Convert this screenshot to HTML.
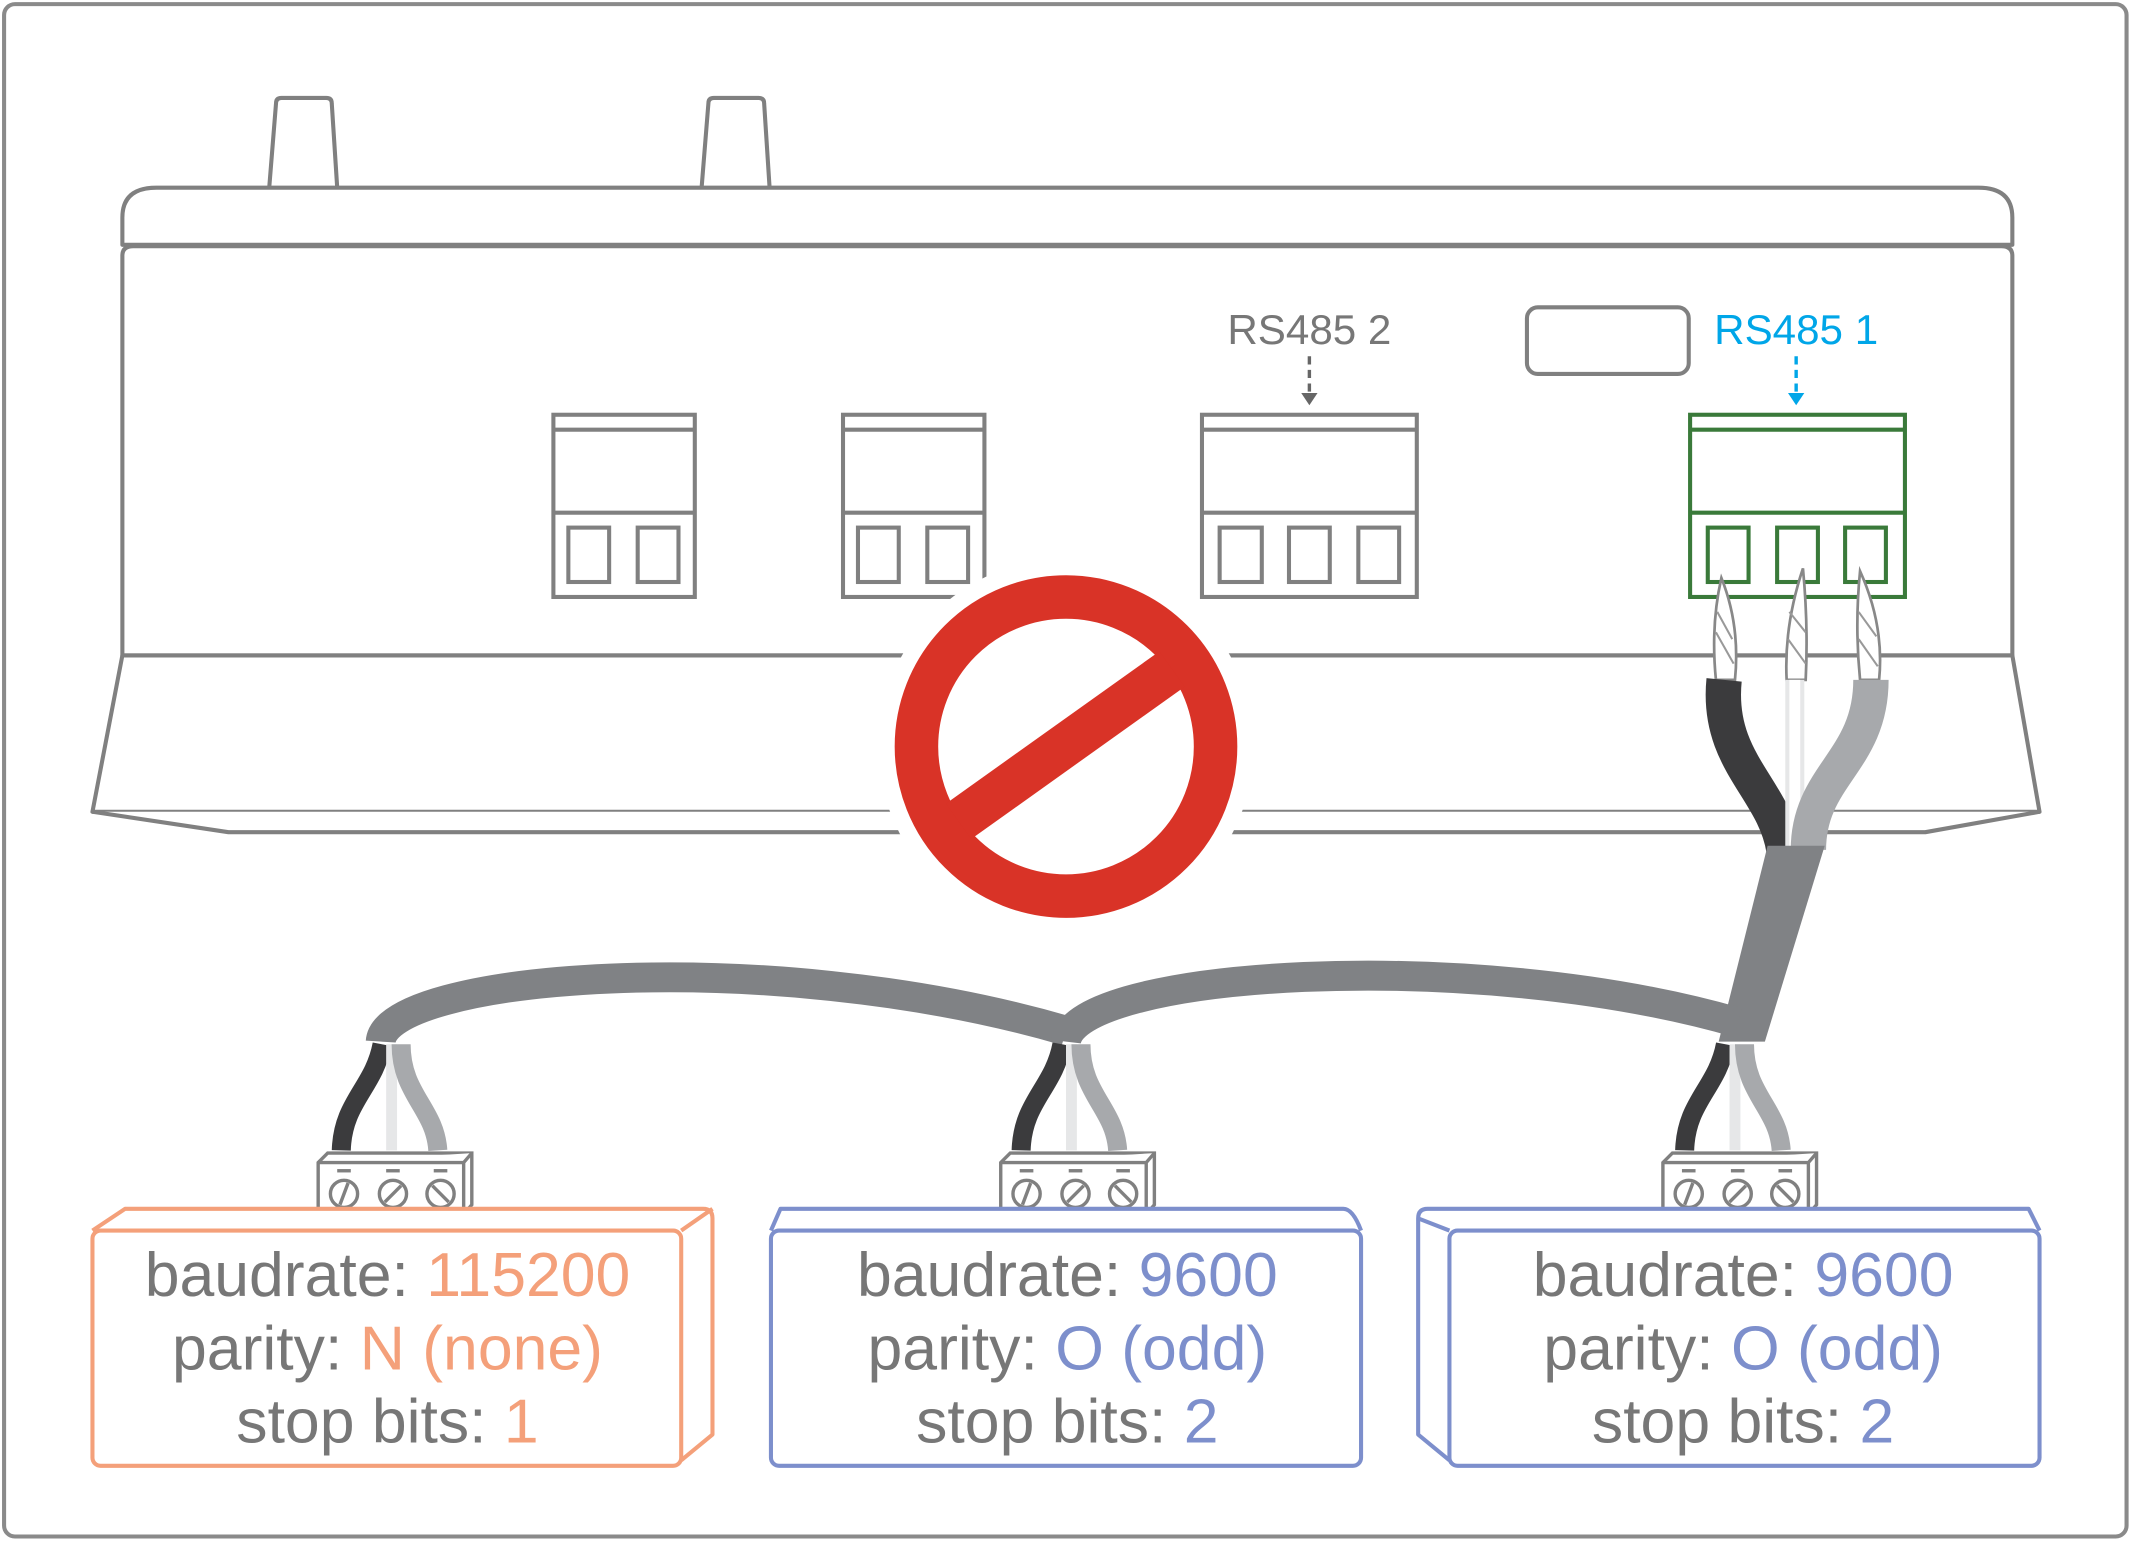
<!DOCTYPE html>
<html><head><style>html,body{margin:0;padding:0;background:#fff}svg{display:block}</style></head>
<body>
<svg width="2132" height="1542" viewBox="0 0 1568 1134" xmlns="http://www.w3.org/2000/svg" font-family="'Liberation Sans',sans-serif">
<rect x="3" y="3" width="1561" height="1127" rx="8" fill="#fff" stroke="#8a8a8a" stroke-width="3"/>
<g fill="#fff" stroke="#808080" stroke-width="3" stroke-linejoin="round">
<path d="M198,138 L203,76 Q203,72 207,72 L240,72 Q244,72 244,76 L248,138"/>
<path d="M516,138 L521,76 Q521,72 525,72 L558,72 Q562,72 562,76 L566,138"/>
<path d="M90,180 L90,160 Q90,138 115,138 L1455,138 Q1480,138 1480,160 L1480,180 Z"/>
<path d="M90,482 L90,188 Q90,181 98,181 L1472,181 Q1480,181 1480,188 L1480,482 Z"/>
<path d="M90,482 L68,597 L1500,597 L1480,482 Z"/>
<path d="M68,597 L168,612 L1416,612 L1500,597"/>
<rect x="1123" y="226" width="119" height="49" rx="8"/>
</g>
<g fill="none" stroke="#808080" stroke-width="3">
<rect x="407" y="305" width="104" height="134"/><line x1="407" y1="316" x2="511" y2="316"/><line x1="407" y1="377" x2="511" y2="377"/>
<rect x="418" y="388" width="30" height="40"/><rect x="469" y="388" width="30" height="40"/>
<rect x="620" y="305" width="104" height="134"/><line x1="620" y1="316" x2="724" y2="316"/><line x1="620" y1="377" x2="724" y2="377"/>
<rect x="631" y="388" width="30" height="40"/><rect x="682" y="388" width="30" height="40"/>
<rect x="884" y="305" width="158" height="134"/><line x1="884" y1="316" x2="1042" y2="316"/><line x1="884" y1="377" x2="1042" y2="377"/>
<rect x="897" y="388" width="31" height="40"/><rect x="948" y="388" width="30" height="40"/><rect x="999" y="388" width="30" height="40"/>
</g>
<g fill="none" stroke="#3a7a3a" stroke-width="3">
<rect x="1243" y="305" width="158" height="134"/><line x1="1243" y1="316" x2="1401" y2="316"/><line x1="1243" y1="377" x2="1401" y2="377"/>
<rect x="1256" y="388" width="30" height="40"/><rect x="1307" y="388" width="30" height="40"/><rect x="1357" y="388" width="30" height="40"/>
</g>
<text x="963" y="253" font-size="31" fill="#777" text-anchor="middle">RS485 2</text>
<text x="1321" y="253" font-size="31" fill="#00a6e8" text-anchor="middle">RS485 1</text>
<line x1="963" y1="262" x2="963" y2="292" stroke="#666" stroke-width="2.5" stroke-dasharray="6,4"/>
<path d="M957,289 L963,298 L969,289 Z" fill="#666"/>
<line x1="1321" y1="262" x2="1321" y2="292" stroke="#00a6e8" stroke-width="2.5" stroke-dasharray="6,4"/>
<path d="M1315,289 L1321,298 L1327,289 Z" fill="#00a6e8"/>
<g fill="#fff" stroke="#888" stroke-width="2">
<path d="M1266,425 Q1280,460 1276,500 L1262,500 Q1258,460 1266,425 Z"/>
<path d="M1326,418 Q1330,460 1328,500 L1314,500 Q1312,460 1326,418 Z"/>
<path d="M1368,420 Q1386,460 1382,500 L1368,500 Q1364,460 1368,420 Z"/>
</g>
<g stroke="#999" stroke-width="1.5">
<line x1="1263" y1="450" x2="1274" y2="470"/><line x1="1262" y1="465" x2="1275" y2="488"/><line x1="1316" y1="450" x2="1328" y2="465"/><line x1="1315" y1="470" x2="1328" y2="488"/><line x1="1367" y1="450" x2="1380" y2="468"/><line x1="1367" y1="470" x2="1381" y2="490"/>
</g>
<path d="M1268,500 C1262,560 1305,580 1312,625" fill="none" stroke="#3b3b3d" stroke-width="26"/>
<path d="M1320,500 L1320,625" fill="none" stroke="#e6e7e8" stroke-width="14"/>
<path d="M1320,500 L1320,625" fill="none" stroke="#fff" stroke-width="8"/>
<path d="M1376,500 C1376,560 1330,570 1330,625" fill="none" stroke="#a7a9ac" stroke-width="26"/>
<path d="M1300,622 L1342,622 L1298,766 L1264,766 Z" fill="#808285"/>
<path d="M280,766 C283,718 560,693 784,758" fill="none" stroke="#808285" stroke-width="22"/>
<path d="M784,766 C790,715 1080,695 1278,752" fill="none" stroke="#808285" stroke-width="22"/>
<g id="w">
<path d="M281,768 C275,800 252,810 251,846" fill="none" stroke="#3b3b3d" stroke-width="14"/>
<path d="M288,768 L288,846" fill="none" stroke="#e6e7e8" stroke-width="8"/>
<path d="M295,768 C295,805 320,815 322,846" fill="none" stroke="#a7a9ac" stroke-width="14"/>
</g>
<use href="#w" x="500"/><use href="#w" x="988"/>
<g id="c" fill="#fff" stroke="#808080" stroke-width="2.5">
<path d="M234,893 L234,855 L241,848 L347,848 L347,886 L341,893 Z"/>
<path d="M234,855 L341,855 L347,848 M341,855 L341,893"/>
<line x1="248" y1="861" x2="258" y2="861"/><line x1="284" y1="861" x2="294" y2="861"/><line x1="319" y1="861" x2="329" y2="861"/>
<circle cx="253" cy="878" r="10"/><line x1="250" y1="886" x2="256" y2="870"/>
<circle cx="289" cy="878" r="10"/><line x1="283" y1="884" x2="295" y2="872"/>
<circle cx="324" cy="878" r="10"/><line x1="318" y1="872" x2="330" y2="884"/>
</g>
<use href="#c" x="502"/><use href="#c" x="989"/>
<circle cx="784" cy="549" r="138" fill="#fff"/>
<circle cx="784" cy="549" r="110" fill="none" stroke="#d93327" stroke-width="32"/>
<line x1="705" y1="604" x2="862" y2="492" stroke="#d93327" stroke-width="32"/>
<g fill="#fff" stroke="#f4a07a" stroke-width="3" stroke-linejoin="round">
<path d="M68,905 L92,889 L517,889 Q524,889 524,896 L524,1055 L501,1074 M501,905 L524,889"/>
<rect x="68" y="905" width="433" height="173" rx="6"/>
</g>
<g fill="#fff" stroke="#7d8fcc" stroke-width="3" stroke-linejoin="round">
<path d="M567,905 L574,889 L988,889 Q995,889 1001,905"/>
<rect x="567" y="905" width="434" height="173" rx="6"/>
<path d="M1066,905 L1043,896 Q1043,889 1050,889 L1492,889 L1500,905 M1043,896 L1043,1055 L1066,1074"/>
<rect x="1066" y="905" width="434" height="173" rx="6"/>
</g>
<g font-size="46" fill="#777" text-anchor="middle">
<text x="285" y="953">baudrate: <tspan fill="#f4a07a">115200</tspan></text>
<text x="285" y="1007">parity: <tspan fill="#f4a07a">N (none)</tspan></text>
<text x="285" y="1061">stop bits: <tspan fill="#f4a07a">1</tspan></text>
<text x="785" y="953">baudrate: <tspan fill="#7d8fcc">9600</tspan></text>
<text x="785" y="1007">parity: <tspan fill="#7d8fcc">O (odd)</tspan></text>
<text x="785" y="1061">stop bits: <tspan fill="#7d8fcc">2</tspan></text>
<text x="1282" y="953">baudrate: <tspan fill="#7d8fcc">9600</tspan></text>
<text x="1282" y="1007">parity: <tspan fill="#7d8fcc">O (odd)</tspan></text>
<text x="1282" y="1061">stop bits: <tspan fill="#7d8fcc">2</tspan></text>
</g>
</svg>
</body></html>
